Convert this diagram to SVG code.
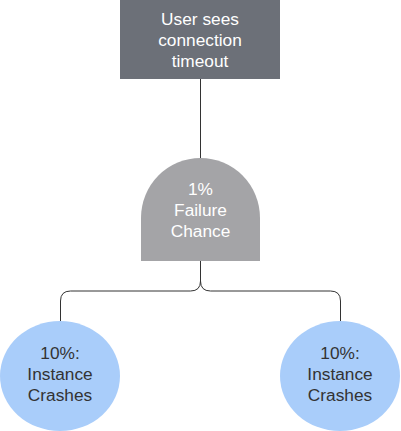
<svg xmlns="http://www.w3.org/2000/svg" width="401" height="431" viewBox="0 0 401 431">
<style>
.t{font-family:"Liberation Sans",Arial,sans-serif;font-size:17.3px;text-anchor:middle}
.w{fill:#ffffff}
.d{fill:#333333}
.c{fill:none;stroke:#333333;stroke-width:1}
</style>
<rect width="401" height="431" fill="#ffffff"/>
<g id="connectors">
<path class="c" d="M200.5 79 V158"/>
<path class="c" d="M200.5 261 V281 Q200.5 291 190.5 291 H70.5 Q60.5 291 60.5 301 V321"/>
<path class="c" d="M200.5 261 V281 Q200.5 291 210.5 291 H330.5 Q340.5 291 340.5 301 V321"/>
</g>
<g id="top">
<rect x="120" y="0" width="160" height="79" fill="#6c7078"/>
<text class="t w" x="200" y="25">User sees</text>
<text class="t w" x="200" y="46">connection</text>
<text class="t w" x="200" y="67">timeout</text>
</g>
<g id="gate">
<path d="M141 261 V218 A59.5 60 0 0 1 260 218 V261 Z" fill="#a4a4a7"/>
<text class="t w" x="200.5" y="195">1%</text>
<text class="t w" x="200.5" y="216">Failure</text>
<text class="t w" x="200.5" y="237">Chance</text>
</g>
<g id="left">
<ellipse cx="60" cy="376" rx="60" ry="55" fill="#a9cdfa"/>
<text class="t d" x="60" y="359">10%:</text>
<text class="t d" x="60" y="380">Instance</text>
<text class="t d" x="60" y="401">Crashes</text>
</g>
<g id="right">
<ellipse cx="340" cy="376" rx="60" ry="55" fill="#a9cdfa"/>
<text class="t d" x="340" y="359">10%:</text>
<text class="t d" x="340" y="380">Instance</text>
<text class="t d" x="340" y="401">Crashes</text>
</g>
</svg>
